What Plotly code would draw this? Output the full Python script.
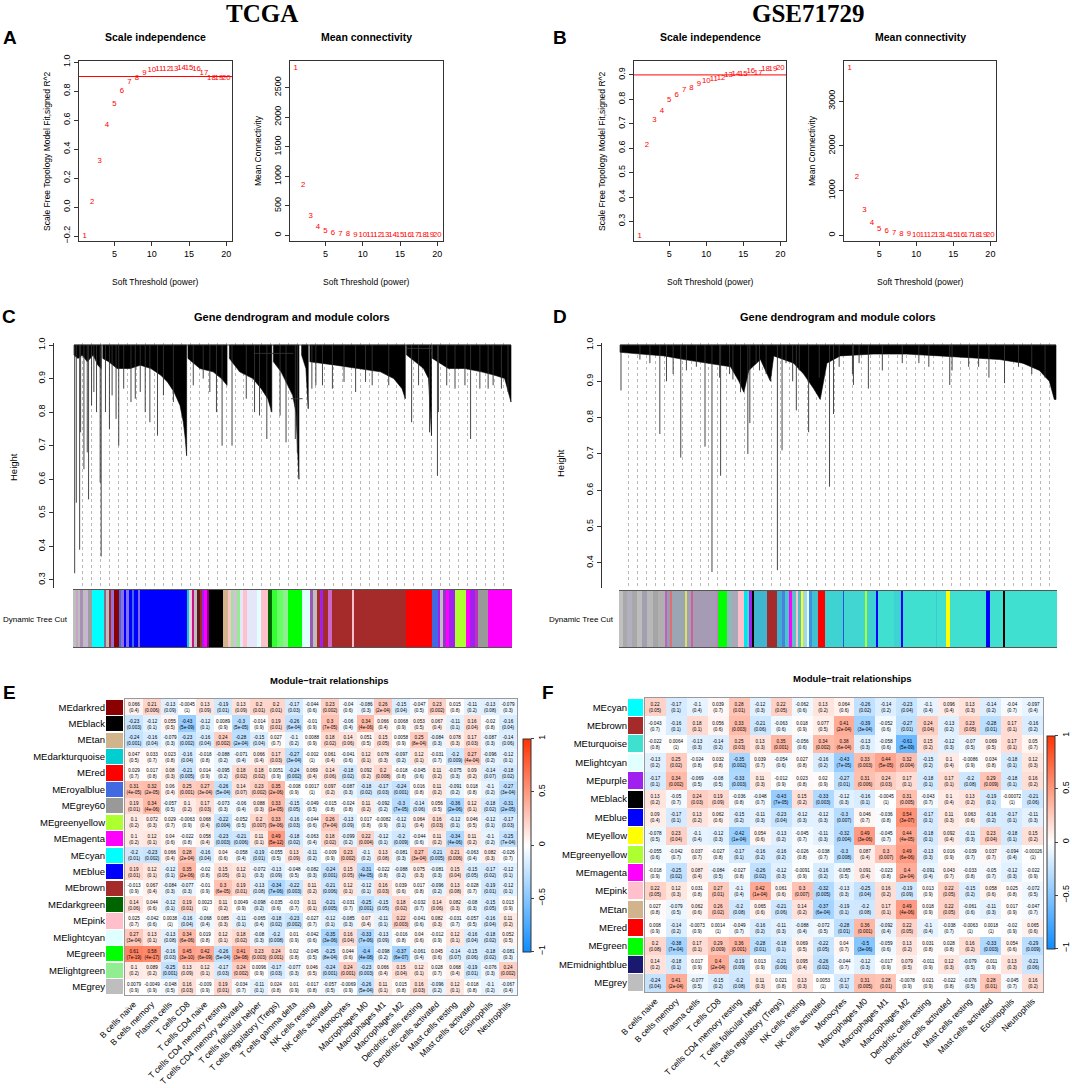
import plotly.graph_objects as go
from itertools import accumulate

W, H = 1072, 1088

# ---------------- A / B : soft threshold picking ----------------
POWERS = list(range(1, 21))
TCGA_R2 = [-0.2, 0.037, 0.315, 0.568, 0.71, 0.80, 0.862, 0.892, 0.926, 0.943,
           0.95, 0.95, 0.953, 0.956, 0.956, 0.952, 0.924, 0.89, 0.89, 0.89]
TCGA_K = [2833, 852, 327, 141, 73, 40, 23, 13, 8, 5, 4, 3, 2, 2, 1, 1, 1, 1, 1, 1]
GSE_R2 = [0.242, 0.612, 0.714, 0.751, 0.796, 0.817, 0.837, 0.848, 0.862, 0.873,
          0.884, 0.889, 0.90, 0.903, 0.905, 0.914, 0.908, 0.922, 0.926, 0.93]
GSE_K = [3738, 1310, 573, 275, 149, 89, 52, 30, 18, 12, 8, 6, 4, 3, 2, 2, 2, 1, 1, 1]
R2_CUT = 0.9

# ---------------- C / D : dendrograms (leaf-order units) ----------------
TOP = 1.0
C_CLUSTERS = [
    [(0, 0.97), (12, 0.96), (25, 0.97), (40, 0.95), (58, 0.97), (72, 0.94), (82, 0.93)],
    [(87, 0.96), (105, 0.95), (130, 0.93), (170, 0.93), (200, 0.94), (232, 0.93), (262, 0.91),
     (282, 0.89), (302, 0.86), (320, 0.82), (330, 0.77), (336, 0.72), (340, 0.67)],
    [(344, 0.96), (380, 0.93), (420, 0.92), (445, 0.90), (462, 0.88)],
    [(469, 0.96), (500, 0.92), (540, 0.90), (565, 0.87), (585, 0.84), (597, 0.80)],
    [(602, 0.95), (625, 0.92), (645, 0.88), (660, 0.85), (670, 0.80), (679, 0.60)],
    [(687, 0.97), (700, 0.93), (707, 0.81)],
    [(712, 0.95), (790, 0.94), (860, 0.93), (925, 0.92), (965, 0.90), (990, 0.87), (1000, 0.84)],
    [(1004, 0.97), (1030, 0.95), (1055, 0.93), (1070, 0.90), (1079, 0.73)],
    [(1082, 0.96), (1130, 0.93), (1180, 0.93), (1230, 0.92), (1270, 0.91), (1300, 0.90), (1319, 0.83)],
]
C_SPIKE_X = [2, 7, 17, 20, 30, 40, 44, 53, 60, 68, 79, 82, 95, 107, 115, 127, 135, 150, 172, 185, 200, 215,
             229, 252, 270, 300, 360, 390, 410, 430, 447, 477, 520, 545, 560, 582, 622, 640, 668, 674,
             718, 730, 750, 780, 815, 850, 880, 900, 950, 1019, 1040, 1073, 1097, 1100, 1125, 1150,
             1180, 1197, 1225, 1250, 1265, 1290, 1310]
C_SPIKE_H = [0.32, 0.53, 0.39, 0.74, 0.63, 0.68, 0.54, 0.82, 0.86, 0.80, 0.59, 0.37, 0.80, 0.75, 0.85, 0.78,
             0.70, 0.87, 0.83, 0.84, 0.86, 0.80,
             0.77, 0.73, 0.85, 0.83, 0.88, 0.90, 0.86, 0.80, 0.70, 0.70, 0.84, 0.80, 0.79, 0.72, 0.79, 0.71,
             0.72, 0.68,
             0.87, 0.88, 0.88, 0.87, 0.89, 0.86, 0.89, 0.88, 0.88, 0.77, 0.88, 0.74, 0.61, 0.80, 0.88, 0.87,
             0.88, 0.72, 0.87, 0.87, 0.88, 0.87, 0.86]
C_MERGES = [(542, 662, 0.975), (655, 690, 0.84), (1004, 1082, 0.99)]

D_CLUSTERS = [
    [(0, 0.98), (63, 0.975), (133, 0.97), (193, 0.96), (263, 0.95), (333, 0.94), (358, 0.90),
     (373, 0.87), (388, 0.93), (423, 0.96), (453, 0.90), (463, 0.97), (523, 0.95), (553, 0.92),
     (583, 0.88), (603, 0.85), (623, 0.95), (663, 0.97), (763, 0.975), (863, 0.975), (963, 0.97),
     (1063, 0.965), (1143, 0.96), (1213, 0.95), (1263, 0.93), (1293, 0.90), (1308, 0.85), (1313, 0.85)],
]
D_SPIKE_X = [3, 60, 90, 120, 140, 160, 183, 200, 230, 256, 277, 300, 303, 330, 340, 363, 385, 391, 410, 420,
             440, 474, 488, 500, 520, 531, 540, 568, 600, 631, 643, 660, 700, 703, 720, 748, 790, 850,
             900, 930, 993, 1000, 1050, 1080, 1111, 1158, 1200, 1240, 1280]
D_SPIKE_H = [0.875, 0.96, 0.95, 0.755, 0.90, 0.92, 0.69, 0.93, 0.94, 0.72, 0.375, 0.91, 0.64, 0.92, 0.905,
             0.87, 0.70, 0.785, 0.95, 0.93,
             0.92, 0.38, 0.71, 0.95, 0.90, 0.82, 0.93, 0.76, 0.91, 0.61, 0.81, 0.94, 0.92, 0.89, 0.95, 0.88,
             0.93, 0.95,
             0.95, 0.94, 0.89, 0.93, 0.94, 0.94, 0.91, 0.895, 0.94, 0.92, 0.91]
D_MERGES = []

# module colour strips (colour, width in leaf units)
C_STRIP_COLORS = ["#bebebe", "#c8a2c8", "#bebebe", "#a98fb8", "#bebebe", "#c9b3d6", "#9e9e9e", "#00ffff",
                  "#8b6b8b", "#bebebe", "#a52a2a", "#9370db", "#8b0000", "#4169e1", "#9370db", "#0000ff",
                  "#8470ff", "#0000ff", "#4169e1", "#0000ff", "#7b68ee", "#0000ff", "#0000ff", "#00ced1",
                  "#f0c8e0", "#c71585", "#bebebe", "#5c1a1a", "#a52a2a", "#a020f0", "#ff00ff", "#8b008b",
                  "#000000", "#d2b48c", "#ffc0cb", "#90ee90", "#d8bfd8", "#90ee90", "#e6e6fa", "#ffc0cb",
                  "#e6e6fa", "#e0ffff", "#ffc0cb", "#006400", "#33ff33", "#66ff66", "#90ee90", "#00ff00",
                  "#e0ffff", "#9b59b6", "#bebebe", "#a52a2a", "#a020f0", "#a52a2a", "#cc66cc", "#a52a2a",
                  "#a52a2a", "#ffc0cb", "#a52a2a", "#ff0000", "#4169e1", "#a020f0", "#bebebe", "#9932cc",
                  "#ff00ff", "#a020f0", "#adff2f", "#ff00ff", "#a020f0", "#c030c0", "#999999", "#ff00ff"]
C_STRIP_WIDTHS = [8, 6, 8, 8, 8, 8, 11, 37,
                  6, 7, 8, 7, 15, 7, 8, 8,
                  7, 10, 7, 10, 8, 10, 130, 8,
                  7, 7, 8, 10, 7, 5, 8, 8,
                  40, 17, 7, 8, 10, 10, 10, 10,
                  30, 12, 23, 10, 15, 18, 17, 40,
                  25, 10, 10, 10, 10, 15, 10, 15,
                  48, 4, 158, 77, 18, 7, 8, 10,
                  8, 17, 35, 10, 15, 10, 30, 72]

D_STRIP_COLORS = ["#c0c0c0", "#a9a9a9", "#b0b0c0", "#a8a8a8", "#bdbdbd", "#a0a0b0", "#b8b8b8", "#a5a5a5", "#b0b0b0",
                  "#c060c0", "#9a9ab0", "#e07070", "#9aa6b4", "#e0e060", "#a0a0b8", "#d06090", "#a59bb5", "#c080c0",
                  "#00ff00", "#8fb8b8", "#a8a8b8", "#ffc0cb", "#00e5ee", "#40e0d0", "#a020f0", "#000000",
                  "#3fb5cf", "#a52a2a", "#3cb0d0", "#4f7fd8", "#40c8d0", "#ff00ff", "#60c0c8", "#ffc0cb",
                  "#50c0d0", "#ffff00", "#a0d8e8", "#e0ffff", "#3f90e0", "#40c0d0", "#ff0000", "#3fd2d2",
                  "#3050e0", "#42d6d2", "#adff2f", "#3fd0d2", "#0000ff", "#40e0d0", "#3fd2d2", "#0000ff",
                  "#40e0d0", "#3fc8d0", "#40e0d0", "#ffff00", "#40e0d0", "#0000ff", "#40e0d0", "#000000", "#40e0d0"]
D_STRIP_WIDTHS = [13, 12, 13, 15, 15, 15, 20, 15, 20,
                  5, 10, 5, 40, 7, 13, 5, 70, 3,
                  27, 15, 20, 17, 8, 8, 10, 4,
                  38, 30, 15, 10, 13, 9, 13, 5,
                  10, 5, 10, 6, 9, 20, 20, 55,
                  2, 64, 4, 30, 4, 46, 25, 4,
                  99, 3, 27, 10, 110, 10, 42, 5, 155]

# ---------------- E : TCGA module-trait ----------------
E_MODULES = ["MEdarkred", "MEblack", "MEtan", "MEdarkturquoise", "MEred", "MEroyalblue", "MEgrey60",
             "MEgreenyellow", "MEmagenta", "MEcyan", "MEblue", "MEbrown", "MEdarkgreen", "MEpink",
             "MElightcyan", "MEgreen", "MElightgreen", "MEgrey"]
E_COLORS = ["#8b0000", "#000000", "#d2b48c", "#00ced1", "#ff0000", "#4169e1", "#999999",
            "#adff2f", "#ff00ff", "#00ffff", "#0000ff", "#a52a2a", "#006400", "#ffc0cb",
            "#e0ffff", "#00ff00", "#90ee90", "#bebebe"]
E_TRAITS = ["B cells naive", "B cells memory", "Plasma cells", "T cells CD8", "T cells CD4 naive",
            "T cells CD4 memory resting", "T cells CD4 memory activated", "T cells follicular helper",
            "T cells regulatory (Tregs)", "T cells gamma delta", "NK cells resting", "NK cells activated",
            "Monocytes", "Macrophages M0", "Macrophages M1", "Macrophages M2", "Dendritic cells resting",
            "Dendritic cells activated", "Mast cells resting", "Mast cells activated", "Eosinophils", "Neutrophils"]
E_COR = [
    [0.066, 0.21, -0.13, -0.0045, 0.13, -0.19, 0.13, 0.2, 0.2, -0.17, -0.044, 0.23, -0.04, -0.086, 0.26, -0.15, -0.047, 0.23, 0.015, -0.11, -0.13, -0.079],
    [-0.23, -0.12, 0.055, -0.43, -0.12, 0.0089, -0.3, -0.014, 0.19, -0.26, -0.01, 0.3, -0.06, 0.34, 0.066, 0.0068, 0.053, 0.067, -0.11, 0.16, -0.02, -0.16],
    [-0.24, -0.16, -0.079, -0.23, -0.16, 0.24, -0.28, -0.15, 0.027, -0.1, 0.0088, 0.18, 0.14, 0.051, 0.15, 0.0058, 0.25, -0.084, 0.078, 0.17, -0.087, -0.14],
    [0.047, 0.033, 0.023, -0.16, -0.018, -0.088, -0.071, 0.066, 0.17, -0.27, -0.002, 0.061, -0.041, 0.12, 0.078, -0.097, 0.12, -0.031, -0.2, 0.27, -0.096, -0.12],
    [0.029, 0.017, 0.08, -0.21, 0.014, -0.095, 0.18, 0.18, 0.0051, -0.24, 0.069, 0.14, -0.18, 0.092, 0.2, -0.018, -0.045, 0.11, -0.075, 0.09, -0.14, -0.18],
    [0.31, 0.32, 0.06, 0.25, 0.27, -0.26, 0.14, 0.23, 0.35, -0.008, 0.0017, 0.097, -0.087, -0.18, -0.17, -0.24, 0.016, 0.11, -0.091, 0.018, -0.1, -0.27],
    [0.19, 0.34, -0.057, 0.1, 0.17, -0.073, -0.06, 0.088, 0.33, -0.15, -0.049, -0.015, -0.024, 0.11, -0.092, -0.3, -0.14, 0.056, -0.36, 0.12, -0.18, -0.31],
    [0.1, 0.072, 0.029, -0.0063, 0.068, -0.22, -0.052, 0.2, 0.33, -0.16, -0.044, 0.26, -0.13, 0.017, -0.0082, -0.12, 0.064, 0.16, -0.12, 0.046, -0.12, -0.17],
    [0.1, 0.12, 0.04, -0.022, 0.058, -0.23, -0.21, 0.11, 0.49, -0.18, -0.063, 0.18, -0.099, 0.22, -0.12, -0.2, -0.044, 0.11, -0.34, 0.11, -0.1, -0.25],
    [-0.2, -0.23, 0.066, 0.28, -0.16, 0.04, -0.058, -0.19, -0.055, 0.13, -0.11, -0.009, 0.23, -0.1, 0.13, -0.081, 0.27, -0.21, 0.21, -0.063, 0.082, -0.026],
    [0.19, 0.12, -0.12, 0.35, -0.02, 0.15, 0.12, -0.072, -0.13, -0.048, -0.082, -0.24, 0.15, -0.31, -0.022, -0.088, 0.075, -0.081, 0.15, -0.15, -0.17, -0.12],
    [-0.013, 0.067, -0.084, -0.077, -0.01, 0.3, 0.19, -0.13, -0.34, -0.22, 0.11, -0.21, 0.12, -0.12, 0.16, 0.039, 0.017, -0.096, 0.13, -0.028, -0.19, -0.12],
    [0.14, 0.044, -0.12, 0.19, 0.0023, 0.11, 0.0049, -0.098, -0.035, -0.03, 0.11, -0.21, -0.031, -0.25, -0.15, 0.18, -0.032, 0.14, 0.082, -0.08, -0.15, 0.013],
    [0.025, -0.042, 0.0038, -0.16, -0.068, 0.085, -0.11, -0.065, -0.18, -0.23, -0.027, -0.12, -0.085, 0.07, -0.11, 0.22, -0.041, 0.082, -0.031, -0.057, -0.16, 0.11],
    [0.27, 0.13, -0.13, 0.34, 0.019, 0.12, 0.18, -0.08, -0.2, 0.01, -0.042, -0.35, 0.16, -0.33, -0.13, -0.016, 0.04, -0.012, 0.12, -0.16, -0.18, 0.052],
    [0.61, 0.58, -0.16, 0.45, 0.42, -0.26, 0.41, 0.23, 0.24, 0.02, -0.045, -0.25, 0.044, -0.4, -0.098, -0.37, -0.061, 0.045, -0.14, -0.15, -0.18, -0.081],
    [0.1, 0.089, -0.25, 0.13, 0.12, -0.17, 0.24, 0.0096, -0.17, -0.077, 0.046, -0.24, 0.24, -0.23, 0.066, 0.15, 0.12, 0.028, 0.068, -0.19, -0.076, 0.24],
    [0.0079, -0.0049, -0.048, 0.16, -0.009, 0.19, -0.034, -0.11, 0.024, 0.01, -0.017, -0.057, -0.0069, -0.26, 0.11, 0.015, 0.16, -0.096, 0.12, -0.018, -0.1, -0.067],
]
E_P = [
    ["0.4", "0.006", "0.09", "1", "0.09", "0.01", "0.09", "0.01", "0.01", "0.03", "0.6", "0.002", "0.6", "0.3", "2e-04", "0.04", "0.5", "0.002", "0.8", "0.2", "0.08", "0.3"],
    ["0.003", "0.1", "0.5", "5e-09", "0.1", "0.9", "5e-05", "0.9", "0.01", "6e-04", "0.9", "7e-05", "0.4", "4e-06", "0.4", "0.9", "0.5", "0.4", "0.1", "0.04", "0.8", "0.04"],
    ["0.001", "0.04", "0.3", "0.002", "0.04", "0.002", "2e-04", "0.04", "0.7", "0.2", "0.9", "0.02", "0.06", "0.5", "0.05", "0.9", "8e-04", "0.3", "0.3", "0.03", "0.3", "0.06"],
    ["0.5", "0.7", "0.8", "0.04", "0.8", "0.2", "0.4", "0.4", "0.03", "3e-04", "1", "0.4", "0.6", "0.1", "0.3", "0.2", "0.1", "0.7", "0.009", "4e-04", "0.2", "0.1"],
    ["0.7", "0.8", "0.3", "0.005", "0.9", "0.2", "0.02", "0.02", "0.9", "0.002", "0.4", "0.06", "0.02", "0.2", "0.008", "0.8", "0.6", "0.2", "0.3", "0.2", "0.07", "0.02"],
    ["4e-05", "2e-05", "0.4", "0.001", "3e-04", "5e-04", "0.07", "0.002", "2e-06", "0.9", "1", "0.2", "0.3", "0.02", "0.03", "0.001", "0.8", "0.2", "0.2", "0.8", "0.2", "3e-04"],
    ["0.01", "4e-06", "0.5", "0.2", "0.03", "0.3", "0.4", "0.3", "1e-05", "0.05", "0.5", "0.8", "0.8", "0.2", "0.2", "7e-05", "0.06", "0.5", "2e-06", "0.1", "0.02", "2e-05"],
    ["0.2", "0.3", "0.7", "0.9", "0.4", "0.004", "0.5", "0.007", "9e-06", "0.03", "0.6", "7e-04", "0.09", "0.8", "0.9", "0.1", "0.4", "0.03", "0.1", "0.5", "0.1", "0.03"],
    ["0.2", "0.1", "0.6", "0.8", "0.4", "0.003", "0.006", "0.1", "5e-12", "0.02", "0.4", "0.02", "0.2", "0.004", "0.1", "0.009", "0.6", "0.2", "4e-06", "0.2", "0.2", "7e-04"],
    ["0.01", "0.002", "0.4", "2e-04", "0.04", "0.6", "0.4", "0.01", "0.5", "0.09", "0.2", "0.9", "0.002", "0.2", "0.08", "0.3", "3e-04", "0.005", "0.006", "0.4", "0.3", "0.7"],
    ["0.01", "0.1", "0.1", "2e-06", "0.8", "0.05", "0.1", "0.3", "0.09", "0.5", "0.3", "0.001", "0.05", "4e-05", "0.8", "0.2", "0.3", "0.3", "0.04", "0.05", "0.02", "0.1"],
    ["0.9", "0.4", "0.3", "0.3", "0.9", "6e-05", "0.01", "0.08", "7e-06", "0.003", "0.2", "0.006", "0.1", "0.1", "0.03", "0.6", "0.8", "0.2", "0.08", "0.7", "0.01", "0.1"],
    ["0.06", "0.6", "0.1", "0.01", "1", "0.2", "0.9", "0.2", "0.6", "0.7", "0.1", "0.005", "0.7", "0.001", "0.05", "0.02", "0.7", "0.06", "0.3", "0.3", "0.05", "0.9"],
    ["0.7", "0.6", "1", "0.04", "0.4", "0.3", "0.1", "0.4", "0.02", "0.002", "0.7", "0.1", "0.3", "0.4", "0.1", "0.003", "0.6", "0.3", "0.7", "0.5", "0.04", "0.2"],
    ["3e-04", "0.1", "0.08", "6e-06", "0.8", "0.1", "0.02", "0.3", "0.008", "0.9", "0.6", "3e-06", "0.04", "7e-06", "0.09", "0.8", "0.6", "0.9", "0.1", "0.04", "0.02", "0.5"],
    ["7e-19", "4e-17", "0.03", "3e-10", "6e-09", "5e-04", "3e-08", "0.003", "0.001", "0.8", "0.5", "8e-04", "0.6", "4e-08", "0.2", "6e-07", "0.4", "0.6", "0.07", "0.06", "0.02", "0.3"],
    ["0.2", "0.2", "0.001", "0.09", "0.1", "0.03", "0.002", "0.9", "0.03", "0.3", "0.5", "0.001", "0.001", "0.003", "0.4", "0.04", "0.1", "0.7", "0.4", "0.01", "0.3", "0.002"],
    ["0.9", "0.9", "0.5", "0.03", "0.9", "0.01", "0.7", "0.1", "0.8", "0.9", "0.8", "0.5", "0.9", "5e-04", "0.1", "0.8", "0.03", "0.2", "0.1", "0.8", "0.2", "0.4"],
]

# ---------------- F : GSE71729 module-trait ----------------
F_MODULES = ["MEcyan", "MEbrown", "MEturquoise", "MElightcyan", "MEpurple", "MEblack", "MEblue", "MEyellow",
             "MEgreenyellow", "MEmagenta", "MEpink", "MEtan", "MEred", "MEgreen", "MEmidnightblue", "MEgrey"]
F_COLORS = ["#00ffff", "#a52a2a", "#40e0d0", "#e0ffff", "#a020f0", "#000000", "#0000ff", "#ffff00",
            "#adff2f", "#ff00ff", "#ffc0cb", "#d2b48c", "#ff0000", "#00ff00", "#191970", "#bebebe"]
F_TRAITS = ["B cells naive", "B cells memory", "Plasma cells", "T cells CD8", "T cells CD4 memory resting",
            "T cells follicular helper", "T cells regulatory (Tregs)", "NK cells resting", "NK cells activated",
            "Monocytes", "Macrophages M0", "Macrophages M1", "Macrophages M2", "Dendritic cells resting",
            "Dendritic cells activated", "Mast cells resting", "Mast cells activated", "Eosinophils", "Neutrophils"]
F_COR = [
    [0.22, -0.17, -0.1, 0.039, 0.28, -0.12, 0.22, -0.062, 0.13, 0.064, -0.26, -0.14, -0.23, -0.1, 0.096, 0.13, -0.14, -0.04, -0.097],
    [-0.043, -0.16, 0.18, 0.056, 0.33, -0.21, -0.063, 0.018, 0.077, 0.41, -0.39, -0.052, -0.27, 0.24, -0.13, 0.23, -0.28, 0.17, -0.16],
    [-0.022, 0.0064, -0.13, -0.14, 0.25, 0.13, 0.35, -0.056, 0.34, 0.38, -0.13, -0.058, -0.61, 0.15, -0.12, -0.07, 0.069, 0.17, 0.05],
    [-0.13, 0.25, -0.024, 0.032, -0.35, 0.039, -0.054, 0.027, -0.16, -0.43, 0.33, 0.44, 0.32, -0.15, 0.1, -0.0086, 0.034, -0.18, 0.12],
    [-0.17, 0.34, -0.069, -0.08, -0.33, 0.11, -0.012, 0.023, 0.02, -0.27, 0.31, 0.24, 0.17, -0.18, 0.17, -0.2, 0.29, -0.18, 0.16],
    [0.13, -0.05, 0.24, 0.19, -0.036, -0.048, -0.43, 0.15, -0.33, -0.12, -0.16, -0.0045, 0.31, -0.043, 0.1, 0.13, -0.19, -0.00072, -0.21],
    [0.09, -0.17, 0.13, 0.062, -0.15, -0.11, -0.23, -0.12, -0.12, -0.3, 0.046, -0.036, 0.54, -0.17, 0.11, 0.063, -0.16, -0.17, -0.11],
    [-0.078, 0.23, -0.1, -0.12, -0.42, 0.054, -0.13, -0.045, -0.11, -0.32, 0.49, -0.045, 0.44, -0.18, 0.092, -0.11, 0.23, -0.18, 0.15],
    [-0.055, -0.042, 0.037, -0.027, -0.17, -0.16, -0.16, -0.026, -0.038, -0.3, 0.087, 0.3, 0.49, -0.13, 0.016, -0.039, 0.037, -0.094, -0.00026],
    [-0.018, -0.25, 0.087, -0.084, -0.027, -0.26, -0.12, -0.0091, -0.16, -0.065, 0.091, -0.023, 0.4, -0.091, 0.043, -0.033, -0.05, -0.12, -0.022],
    [0.22, 0.12, 0.031, 0.27, -0.1, 0.42, 0.061, 0.3, -0.32, -0.13, -0.25, 0.16, -0.19, 0.013, 0.22, -0.15, 0.058, 0.025, -0.072],
    [0.027, -0.079, 0.062, 0.26, -0.2, 0.065, -0.21, 0.14, -0.37, -0.19, -0.2, 0.17, 0.49, 0.018, 0.22, -0.061, -0.11, 0.017, -0.047],
    [0.008, -0.14, -0.0073, 0.0014, -0.049, -0.16, -0.11, -0.088, -0.072, -0.28, 0.36, -0.092, 0.22, -0.1, -0.038, -0.0063, 0.0018, -0.02, 0.065],
    [0.2, -0.38, 0.17, 0.29, 0.36, -0.28, -0.18, 0.069, -0.22, 0.04, -0.5, -0.059, 0.13, 0.031, 0.028, 0.16, -0.33, 0.054, -0.29],
    [0.14, -0.18, 0.017, 0.4, -0.19, 0.013, -0.21, 0.095, -0.26, -0.044, -0.12, -0.017, 0.079, -0.011, 0.12, -0.079, -0.011, 0.13, -0.21],
    [-0.24, 0.41, -0.077, -0.15, -0.2, 0.11, 0.021, 0.13, 0.0053, -0.17, 0.31, 0.28, -0.0078, 0.021, -0.022, -0.076, 0.28, -0.045, 0.16],
]
F_P = [
    ["0.05", "0.1", "0.4", "0.7", "0.01", "0.3", "0.05", "0.6", "0.2", "0.6", "0.02", "0.2", "0.04", "0.4", "0.4", "0.3", "0.2", "0.7", "0.4"],
    ["0.7", "0.1", "0.1", "0.6", "0.003", "0.06", "0.6", "0.9", "0.5", "2e-04", "3e-04", "0.6", "0.01", "0.04", "0.2", "0.05", "0.01", "0.1", "0.2"],
    ["0.8", "1", "0.3", "0.2", "0.03", "0.3", "0.001", "0.6", "0.002", "6e-04", "0.3", "0.6", "5e-09", "0.2", "0.3", "0.5", "0.5", "0.1", "0.7"],
    ["0.2", "0.02", "0.8", "0.8", "0.002", "0.7", "0.6", "0.8", "0.2", "7e-05", "0.003", "5e-05", "0.004", "0.2", "0.4", "0.9", "0.8", "0.1", "0.3"],
    ["0.1", "0.002", "0.5", "0.5", "0.003", "0.3", "0.9", "0.8", "0.9", "0.01", "0.006", "0.03", "0.1", "0.1", "0.1", "0.08", "0.009", "0.1", "0.2"],
    ["0.2", "0.7", "0.03", "0.09", "0.8", "0.7", "7e-05", "0.2", "0.003", "0.3", "0.1", "1", "0.005", "0.7", "0.4", "0.2", "0.1", "1", "0.06"],
    ["0.4", "0.1", "0.2", "0.6", "0.2", "0.3", "0.04", "0.3", "0.3", "0.007", "0.7", "0.8", "3e-07", "0.1", "0.3", "0.6", "0.2", "0.1", "0.3"],
    ["0.5", "0.04", "0.4", "0.3", "1e-04", "0.6", "0.2", "0.7", "0.3", "0.004", "3e-06", "0.7", "4e-05", "0.1", "0.4", "0.3", "0.04", "0.1", "0.2"],
    ["0.6", "0.7", "0.7", "0.8", "0.1", "0.2", "0.2", "0.8", "0.7", "0.008", "0.4", "0.007", "6e-06", "0.3", "0.9", "0.7", "0.7", "0.4", "1"],
    ["0.9", "0.02", "0.4", "0.5", "0.8", "0.02", "0.3", "0.9", "0.2", "0.5", "0.4", "0.8", "2e-04", "0.4", "0.7", "0.8", "0.7", "0.3", "0.9"],
    ["0.05", "0.3", "0.8", "0.01", "0.4", "1e-04", "0.6", "0.007", "0.005", "0.3", "0.04", "0.2", "0.09", "0.9", "0.05", "0.2", "0.6", "0.8", "0.5"],
    ["0.8", "0.5", "0.6", "0.02", "0.08", "0.6", "0.06", "0.2", "6e-04", "0.1", "0.08", "0.1", "4e-06", "0.9", "0.05", "0.6", "0.3", "0.9", "0.7"],
    ["0.9", "0.2", "0.9", "1", "0.7", "0.2", "0.3", "0.4", "0.5", "0.01", "0.001", "0.4", "0.05", "0.4", "0.7", "1", "1", "0.9", "0.6"],
    ["0.08", "7e-04", "0.1", "0.009", "0.001", "0.01", "0.1", "0.5", "0.05", "0.7", "3e-06", "0.6", "0.2", "0.8", "0.8", "0.2", "0.003", "0.6", "0.009"],
    ["0.2", "0.1", "0.9", "2e-04", "0.09", "0.9", "0.06", "0.4", "0.02", "0.7", "0.3", "0.9", "0.5", "0.9", "0.3", "0.5", "0.9", "0.3", "0.06"],
    ["0.04", "2e-04", "0.5", "0.2", "0.08", "0.3", "0.8", "0.3", "1", "0.1", "0.005", "0.01", "0.9", "0.9", "0.8", "0.5", "0.01", "0.7", "0.2"],
]

BWR = [[0.0, "rgb(13,140,255)"], [0.5, "rgb(255,255,255)"], [1.0, "rgb(255,51,0)"]]
FONT = "Liberation Sans, Arial, sans-serif"


def dx(a, b):
    return [a / W, b / W]


def dy(top, bottom):
    return [1 - bottom / H, 1 - top / H]


fig = go.Figure()
ann = []


def label(x, y, text, size, bold=False, angle=0, family=FONT, color="black"):
    if bold:
        text = "<b>" + text + "</b>"
    ann.append(dict(x=x / W, y=1 - y / H, xref="paper", yref="paper", text=text, showarrow=False,
                    textangle=angle, font=dict(size=size, family=family, color=color),
                    xanchor="center", yanchor="middle"))


def r_axis(**kw):
    d = dict(showline=True, mirror=True, linecolor="#333", linewidth=1, ticks="outside", ticklen=4,
             tickcolor="#333", showgrid=False, zeroline=False, tickfont=dict(size=9, family=FONT))
    d.update(kw)
    return d


# ---- A / B scatter-as-text ----
pick_panels = [
    ("", TCGA_R2, True), ("2", TCGA_K, False), ("3", GSE_R2, True), ("4", GSE_K, False),
]
for ax, vals, is_r2 in pick_panels:
    fig.add_trace(go.Scatter(x=POWERS, y=vals, mode="text", text=[str(p) for p in POWERS],
                             textfont=dict(color="red", size=7.8, family=FONT), xaxis="x" + ax, yaxis="y" + ax,
                             showlegend=False, hoverinfo="skip"))
    if is_r2:
        fig.add_shape(type="line", xref="x" + ax + " domain", yref="y" + ax, x0=0, x1=1,
                      y0=R2_CUT, y1=R2_CUT, line=dict(color="red", width=1))

xr = [0.24, 20.76]
fig.update_layout(
    xaxis=r_axis(domain=dx(79, 232), range=xr, tickvals=[5, 10, 15, 20], anchor="y"),
    yaxis=r_axis(domain=dy(61, 241), range=[-0.234, 1.007], tickvals=[-0.2, 0, 0.2, 0.4, 0.6, 0.8, 1.0],
                 tickformat=".1f", tickangle=-90, anchor="x"),
    xaxis2=r_axis(domain=dx(290, 443), range=xr, tickvals=[5, 10, 15, 20], anchor="y2"),
    yaxis2=r_axis(domain=dy(61, 241), range=[-96, 2951], tickvals=[0, 500, 1000, 1500, 2000, 2500],
                  tickangle=-90, anchor="x2"),
    xaxis3=r_axis(domain=dx(634, 786), range=xr, tickvals=[5, 10, 15, 20], anchor="y3"),
    yaxis3=r_axis(domain=dy(61, 241), range=[0.22, 0.957], tickvals=[0.3, 0.4, 0.5, 0.6, 0.7, 0.8, 0.9],
                  tickformat=".1f", tickangle=-90, anchor="x3"),
    xaxis4=r_axis(domain=dx(844, 996), range=xr, tickvals=[5, 10, 15, 20], anchor="y4"),
    yaxis4=r_axis(domain=dy(61, 241), range=[-127, 3894], tickvals=[0, 1000, 2000, 3000],
                  tickangle=-90, anchor="x4"),
)


# ---- C / D dendrograms ----
def dendro(clusters, spike_x, spike_h, merges, ax):
    px, py = [], []
    for pts in clusters:
        xs = [p[0] for p in pts]
        hs = [p[1] for p in pts]
        px += [xs[0]] + xs + [xs[-1], xs[0], None]
        py += [TOP] + hs + [TOP, TOP, None]
    fig.add_trace(go.Scatter(x=px, y=py, mode="lines", fill="toself", fillcolor="black",
                             line=dict(color="black", width=0.6), xaxis="x" + ax, yaxis="y" + ax,
                             showlegend=False, hoverinfo="skip"))
    sx, sy = [], []
    for x, h in zip(spike_x, spike_h):
        sx += [x, x, None]
        sy += [h, TOP, None]
    for x0, x1, h in merges:
        sx += [x0, x1, None]
        sy += [h, h, None]
    left = min(p[0] for c in clusters for p in c)
    right = max(p[0] for c in clusters for p in c)
    sx += [left, right, None]
    sy += [TOP, TOP, None]
    fig.add_trace(go.Scatter(x=sx, y=sy, mode="lines", line=dict(color="#333", width=0.9),
                             xaxis="x" + ax, yaxis="y" + ax, showlegend=False, hoverinfo="skip"))


def strip(colors, widths, ax):
    starts = [0] + list(accumulate(widths))[:-1]
    fig.add_trace(go.Bar(x=widths, base=starts, y=[0] * len(widths), orientation="h", width=1,
                         marker=dict(color=colors, line=dict(width=0)), xaxis="x" + ax, yaxis="y" + ax,
                         showlegend=False, hoverinfo="skip"))
    return sum(widths)


dendro(C_CLUSTERS, C_SPIKE_X, C_SPIKE_H, C_MERGES, "5")
c_total = strip(C_STRIP_COLORS, C_STRIP_WIDTHS, "6")
dendro(D_CLUSTERS, D_SPIKE_X, D_SPIKE_H, D_MERGES, "7")
d_total = strip(D_STRIP_COLORS, D_STRIP_WIDTHS, "8")

dgrid = dict(showgrid=True, gridcolor="#b8b8b8", griddash="dot", gridwidth=1, showticklabels=False,
             ticks="", zeroline=False, showline=False, dtick=27)
fig.update_layout(
    xaxis5=dict(domain=dx(73, 512), range=[-3, c_total + 3], tick0=27, anchor="y5", **dgrid),
    yaxis5=r_axis(domain=dy(343, 588), range=[0.276, 1.006], tickvals=[0.3, 0.4, 0.5, 0.6, 0.7, 0.8, 0.9, 1.0],
                  tickformat=".1f", tickangle=-90, mirror=False, anchor="free", position=53 / W),
    xaxis6=dict(domain=dx(73, 512), range=[0, c_total], showticklabels=False, ticks="", showgrid=False,
                zeroline=False, showline=True, mirror=True, linecolor="#555", anchor="y6"),
    yaxis6=dict(domain=dy(590, 647), range=[-0.5, 0.5], showticklabels=False, ticks="", showgrid=False,
                zeroline=False, anchor="x6"),
    xaxis7=dict(domain=dx(619, 1057), range=[-3, d_total + 3], tick0=25, anchor="y7", **dgrid),
    yaxis7=r_axis(domain=dy(343, 588), range=[0.331, 1.0055], tickvals=[0.4, 0.5, 0.6, 0.7, 0.8, 0.9, 1.0],
                  tickformat=".1f", tickangle=-90, mirror=False, anchor="free", position=601 / W),
    xaxis8=dict(domain=dx(619, 1057), range=[0, d_total], showticklabels=False, ticks="", showgrid=False,
                zeroline=False, showline=True, mirror=True, linecolor="#555", anchor="y8"),
    yaxis8=dict(domain=dy(591, 647), range=[-0.5, 0.5], showticklabels=False, ticks="", showgrid=False,
                zeroline=False, anchor="x8"),
)


# ---- E / F heatmaps ----
def module_heatmap(modules, colors, traits, cor, pvals, sw_ax, hm_ax, sw_x, hm_x, ytb, cbar_x, cbar_y, cbar_len):
    n = len(modules)
    fig.add_trace(go.Bar(x=[1] * n, y=list(range(n)), orientation="h", width=0.92,
                         marker=dict(color=colors, line=dict(width=0)), xaxis="x" + sw_ax, yaxis="y" + sw_ax,
                         showlegend=False, hoverinfo="skip"))
    text = [[f"{c}<br>({p})" for c, p in zip(rc, rp)] for rc, rp in zip(cor, pvals)]
    fig.add_trace(go.Heatmap(z=cor, x=list(range(len(traits))), y=list(range(n)), text=text,
                             texttemplate="%{text}", textfont=dict(size=4.6, family=FONT, color="black"),
                             colorscale=BWR, zmin=-1, zmax=1, xaxis="x" + hm_ax, yaxis="y" + hm_ax,
                             hoverinfo="skip",
                             colorbar=dict(x=cbar_x / W, xanchor="left", y=1 - cbar_y / H, yanchor="middle",
                                           len=cbar_len, lenmode="pixels", thickness=8, thicknessmode="pixels",
                                           xpad=0, ypad=0,
                                           tickvals=[-1, -0.5, 0, 0.5, 1], ticktext=["\u22121", "\u22120.5", "0", "0.5", "1"],
                                           tickangle=-90, ticks="outside", ticklen=3, outlinewidth=1,
                                           outlinecolor="#333", tickfont=dict(size=9, family=FONT))))
    yr = [n - 0.5, -0.5]
    fig.layout["xaxis" + sw_ax] = dict(domain=dx(*sw_x), range=[0, 1], visible=False, anchor="y" + sw_ax)
    fig.layout["yaxis" + sw_ax] = dict(domain=dy(*ytb), range=yr, tickvals=list(range(n)), ticktext=modules,
                                       ticks="", showline=False, showgrid=False, zeroline=False,
                                       tickfont=dict(size=9.5, family=FONT), anchor="x" + sw_ax)
    fig.layout["xaxis" + hm_ax] = dict(domain=dx(*hm_x), range=[-0.5, len(traits) - 0.5],
                                       tickvals=list(range(len(traits))), ticktext=traits, tickangle=-45,
                                       ticks="", showgrid=False, zeroline=False, showline=True, mirror=True,
                                       linecolor="#999", tickfont=dict(size=8.5, family=FONT), anchor="y" + hm_ax)
    fig.layout["yaxis" + hm_ax] = dict(domain=dy(*ytb), range=yr, showticklabels=False, ticks="",
                                       showgrid=False, zeroline=False, showline=True, mirror=True,
                                       linecolor="#999", anchor="x" + hm_ax)


module_heatmap(E_MODULES, E_COLORS, E_TRAITS, E_COR, E_P, "9", "10", (106, 123), (125, 517), (699, 995),
               523, 845, 213)
module_heatmap(F_MODULES, F_COLORS, F_TRAITS, F_COR, F_P, "11", "12", (628, 643), (645, 1043), (698, 992),
               1047, 842, 213)

# ---- text ----
serif = "Liberation Serif, Times New Roman, serif"
label(262, 14, "TCGA", 25, bold=True, family=serif)
label(808, 14, "GSE71729", 25, bold=True, family=serif)
for x, y, t in [(10, 37, "A"), (560, 37, "B"), (9, 316, "C"), (560, 316, "D"), (9, 692, "E"), (548, 692, "F")]:
    label(x, y, t, 19, bold=True)
for x, t in [(155, "Scale independence"), (366, "Mean connectivity"),
             (710, "Scale independence"), (920, "Mean connectivity")]:
    label(x, 37, t, 10.5, bold=True)
for x in (155, 366, 710, 920):
    label(x, 282, "Soft Threshold (power)", 8.5)
label(47, 151, "Scale Free Topology Model Fit,signed R^2", 8.5, angle=-90)
label(602, 151, "Scale Free Topology Model Fit,signed R^2", 8.5, angle=-90)
label(258, 151, "Mean Connectivity", 8.5, angle=-90)
label(812, 151, "Mean Connectivity", 8.5, angle=-90)
label(292, 317, "Gene dendrogram and module colors", 11, bold=True)
label(838, 317, "Gene dendrogram and module colors", 11, bold=True)
label(13, 467, "Height", 9.5, angle=-90)
label(560, 463, "Height", 9.5, angle=-90)
label(35, 619, "Dynamic Tree Cut", 8)
label(581, 619, "Dynamic Tree Cut", 8)
label(330, 680, "Module\u2212trait relationships", 9.5, bold=True)
label(852, 678, "Module\u2212trait relationships", 9.5, bold=True)

fig.update_layout(width=W, height=H, margin=dict(l=0, r=0, t=0, b=0, autoexpand=False), paper_bgcolor="white",
                  plot_bgcolor="white", annotations=ann, font=dict(family=FONT, color="black"),
                  barmode="overlay", bargap=0)
# the browser's default 8px page margin would shift the whole figure
fig.write_html("out.html", config={"displayModeBar": False},
               post_script="document.body.style.margin='0px';document.body.style.padding='0px';")
